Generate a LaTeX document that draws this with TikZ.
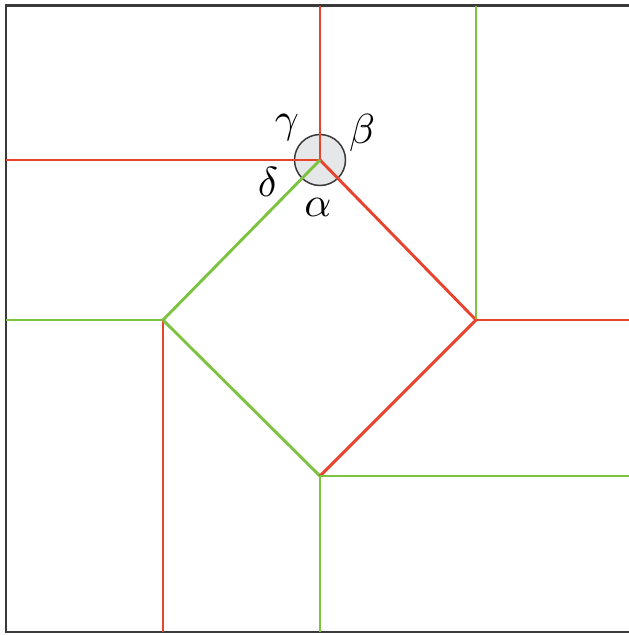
\documentclass[tikz,border=0pt]{standalone}
\begin{document}
\begin{tikzpicture}[x=1pt,y=-1pt]
\definecolor{redl}{HTML}{E8432D}
\definecolor{greenl}{HTML}{7EC242}
\definecolor{frame}{HTML}{3A3A3A}
\definecolor{discfill}{HTML}{E6E7E9}
\tikzset{redseg/.style={draw=redl,line width=2.9pt},
  greenseg/.style={draw=greenl,line width=2.9pt},
  lbl/.style={inner sep=0pt}}
\newcommand{\biglbl}[1]{\scalebox{4.2}{$#1$}}
\useasboundingbox (0,0) rectangle (629,635);
% frame (right side open)
\draw[frame,line width=2.8pt] (629,5.5) -- (6,5.5) -- (6,632) -- (629,632);
% coordinates
\coordinate (C) at (320,160);
\coordinate (R) at (476,320);
\coordinate (L) at (163,320);
\coordinate (B) at (320,476);
\coordinate (Ctop) at (320,5.5);
\coordinate (Cleft) at (6,160);
\coordinate (Rtop) at (476,5.5);
\coordinate (Rright) at (629,320);
\coordinate (Lleft) at (6,320);
\coordinate (Lbot) at (163,632);
\coordinate (Bright) at (629,476);
\coordinate (Bbot) at (320,632);
\node[circle,draw=frame,fill=discfill,line width=1.5pt,minimum size=51pt,inner sep=0pt] (disc) at (C) {};
\draw[redseg] (Ctop) -- (C);
\draw[redseg] (Cleft) -- (C);
\draw[redseg] (C) -- (R);
\draw[greenseg] (C) -- (L);
\draw[greenseg] (Rtop) -- (R);
\draw[redseg] (R) -- (Rright);
\draw[greenseg] (Lleft) -- (L);
\draw[redseg] (L) -- (Lbot);
\draw[greenseg] (L) -- (B);
\draw[redseg] (B) -- (R);
\draw[greenseg] (B) -- (Bright);
\draw[greenseg] (B) -- (Bbot);
\node[lbl] (gam) at (287,128) {\biglbl{\gamma}};
\node[lbl] (bet) at (362,133) {\biglbl{\beta}};
\node[lbl] (del) at (268,182) {\biglbl{\delta}};
\node[lbl] (alp) at (318,207) {\biglbl{\alpha}};
\end{tikzpicture}
\end{document}
